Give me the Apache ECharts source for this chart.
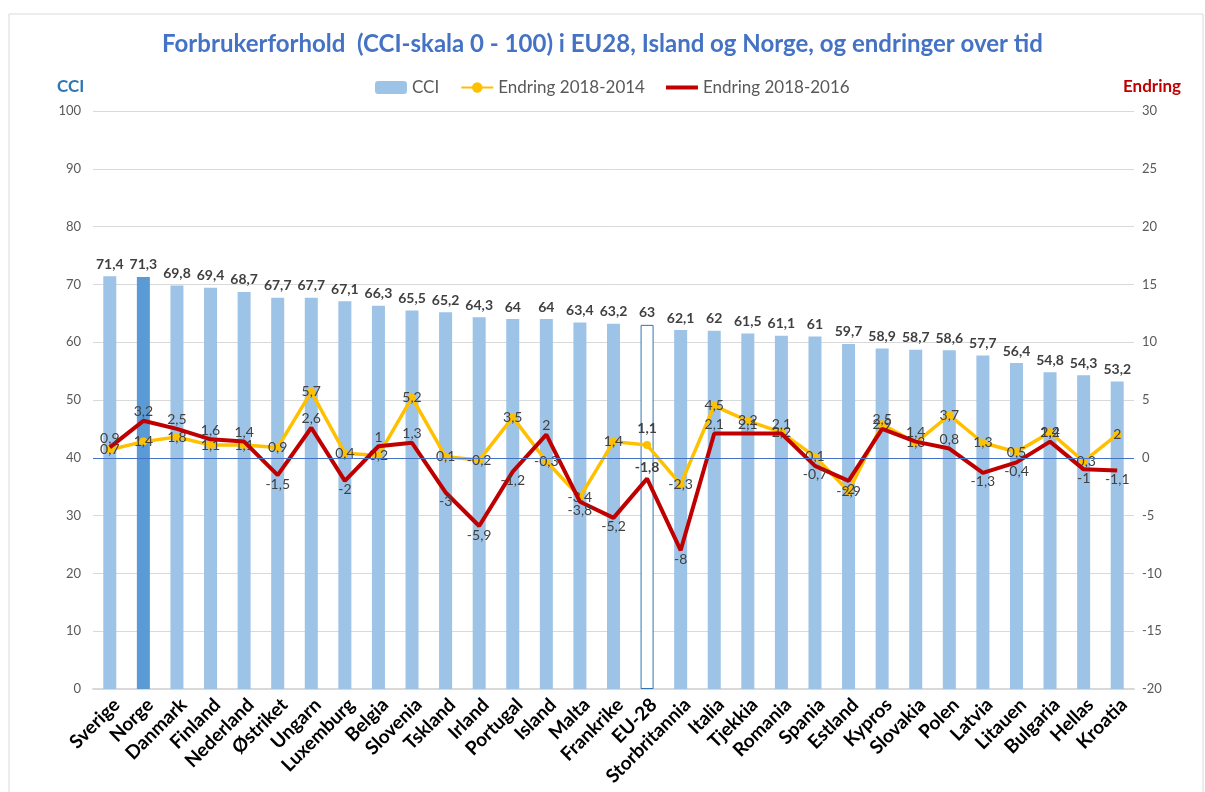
<!DOCTYPE html>
<html>
<head>
<meta charset="utf-8">
<script src="https://cdn.jsdelivr.net/npm/echarts@6/dist/echarts.min.js"></script>
<style>
  html, body { margin: 0; padding: 0; background: #fff; }
  #chart { width: 1205px; height: 792px; }
</style>
</head>
<body>
<div id="chart"></div>
<script>
const countries = ['Sverige', 'Norge', 'Danmark', 'Finland', 'Nederland', 'Østriket', 'Ungarn', 'Luxemburg',
  'Belgia', 'Slovenia', 'Tskland', 'Irland', 'Portugal', 'Island', 'Malta', 'Frankrike', 'EU-28',
  'Storbritannia', 'Italia', 'Tjekkia', 'Romania', 'Spania', 'Estland', 'Kypros', 'Slovakia', 'Polen',
  'Latvia', 'Litauen', 'Bulgaria', 'Hellas', 'Kroatia'];
const cci = [71.4, 71.3, 69.8, 69.4, 68.7, 67.7, 67.7, 67.1, 66.3, 65.5, 65.2, 64.3, 64, 64, 63.4, 63.2, 63,
  62.1, 62, 61.5, 61.1, 61, 59.7, 58.9, 58.7, 58.6, 57.7, 56.4, 54.8, 54.3, 53.2];
const change2014 = [0.7, 1.4, 1.8, 1.1, 1.1, 0.9, 5.7, 0.4, 0.2, 5.2, 0.1, -0.2, 3.5, -0.3, -3.4, 1.4, 1.1,
  -2.3, 4.5, 3.2, 2.2, 0.1, -2.9, 2.9, 1.3, 3.7, 1.3, 0.5, 2.2, -0.3, 2];
const change2016 = [0.9, 3.2, 2.5, 1.6, 1.4, -1.5, 2.6, -2, 1, 1.3, -3, -5.9, -1.2, 2, -3.8, -5.2, -1.8,
  -8, 2.1, 2.1, 2.1, -0.7, -2, 2.5, 1.4, 0.8, -1.3, -0.4, 1.4, -1, -1.1];
const cciTicks = [0, 100, 10];
const changeTicks = [-20, 30, 5];

const FONT = 'Lato';
const comma = v => String(v).replace('.', ',');

const barData = cci.map((v, i) => {
  const name = countries[i];
  if (name === 'Norge') return { value: v, itemStyle: { color: '#5b9bd5' } };
  if (name === 'EU-28') return { value: v, itemStyle: { color: '#fff', borderColor: '#2e75b6', borderWidth: 1 } };
  return v;
});
const yellowData = change2014.map((v, i) =>
  countries[i] === 'EU-28' ? { value: v, label: { position: 'top', distance: 6, fontWeight: 'bold' } } : v);
const redData = change2016.map((v, i) => ({
  value: v,
  label: countries[i] === 'EU-28'
    ? { position: 'top', distance: 4, fontWeight: 'bold' }
    : { position: v >= 0 ? 'top' : 'bottom', distance: 2 }
}));

const chart = echarts.init(document.getElementById('chart'));
chart.setOption({
  backgroundColor: '#fff',
  textStyle: { fontFamily: FONT },
  title: {
    text: 'Forbrukerforhold  (CCI-skala 0 - 100) i EU28, Island og Norge, og endringer over tid',
    left: 'center',
    top: 27,
    textStyle: { color: '#4472c4', fontSize: 24, fontWeight: 'bold', fontFamily: FONT }
  },
  legend: {
    top: 74,
    left: 370,
    itemWidth: 32,
    itemHeight: 13,
    itemGap: 21,
    textStyle: { color: '#595959', fontSize: 17, fontFamily: FONT },
    data: [
      'CCI',
      'Endring 2018-2014',
      { name: 'Endring 2018-2016', icon: 'path://M0,0H34V4H0Z' }
    ]
  },
  graphic: [
    { type: 'rect', shape: { x: 9, y: 14, width: 1194, height: 800 },
      style: { fill: 'none', stroke: '#d9d9d9', lineWidth: 1 }, silent: true },
    { type: 'text', left: 57, top: 78,
      style: { text: 'CCI', fill: '#2e75b6', font: 'bold 17px ' + FONT } },
    { type: 'text', left: 1123, top: 78,
      style: { text: 'Endring', fill: '#c00000', font: 'bold 17px ' + FONT } }
  ],
  grid: { left: 93, right: 71, top: 111, bottom: 103 },
  xAxis: {
    type: 'category',
    data: countries,
    axisLine: { lineStyle: { color: '#d9d9d9', width: 2 } },
    axisTick: { show: false },
    axisLabel: {
      rotate: 45, interval: 0, color: '#000', fontWeight: 'bold', fontSize: 19, margin: 6,
      verticalAlign: 'top', fontFamily: FONT
    }
  },
  yAxis: [
    {
      type: 'value', min: cciTicks[0], max: cciTicks[1], interval: cciTicks[2],
      axisLine: { show: false }, axisTick: { show: false },
      axisLabel: { color: '#595959', fontSize: 13, margin: 12, fontFamily: FONT },
      splitLine: { lineStyle: { color: '#d9d9d9', width: 1 } }
    },
    {
      type: 'value', min: changeTicks[0], max: changeTicks[1], interval: changeTicks[2],
      axisLine: { show: false }, axisTick: { show: false },
      axisLabel: { color: '#595959', fontSize: 13, margin: 8, fontFamily: FONT },
      splitLine: { show: false }
    }
  ],
  series: [
    {
      name: 'CCI',
      type: 'bar',
      data: barData,
      barWidth: 13,
      itemStyle: { color: '#9dc3e6' },
      label: {
        show: true, position: 'top', distance: 5,
        color: '#404040', fontWeight: 'bold', fontSize: 14, fontFamily: FONT,
        formatter: p => comma(p.value)
      }
    },
    {
      name: 'Endring 2018-2014',
      type: 'line',
      yAxisIndex: 1,
      data: yellowData,
      symbol: 'circle',
      symbolSize: 8,
      lineStyle: { color: '#ffc000', width: 3.5 },
      itemStyle: { color: '#ffc000' },
      label: {
        show: true, position: 'inside', color: '#404040', fontSize: 14, fontFamily: FONT,
        formatter: p => comma(p.value)
      },
      markLine: {
        silent: true, symbol: 'none', label: { show: false },
        lineStyle: { color: '#4472c4', width: 1, type: 'solid' },
        data: [{ yAxis: 0 }]
      },
      z: 3
    },
    {
      name: 'Endring 2018-2016',
      type: 'line',
      yAxisIndex: 1,
      data: redData,
      symbol: 'circle',
      symbolSize: 0.1,
      lineStyle: { color: '#c00000', width: 4 },
      itemStyle: { color: '#c00000' },
      label: {
        show: true, color: '#404040', fontSize: 14, fontFamily: FONT,
        formatter: p => comma(p.value)
      },
      z: 4
    }
  ]
});
</script>
</body>
</html>
